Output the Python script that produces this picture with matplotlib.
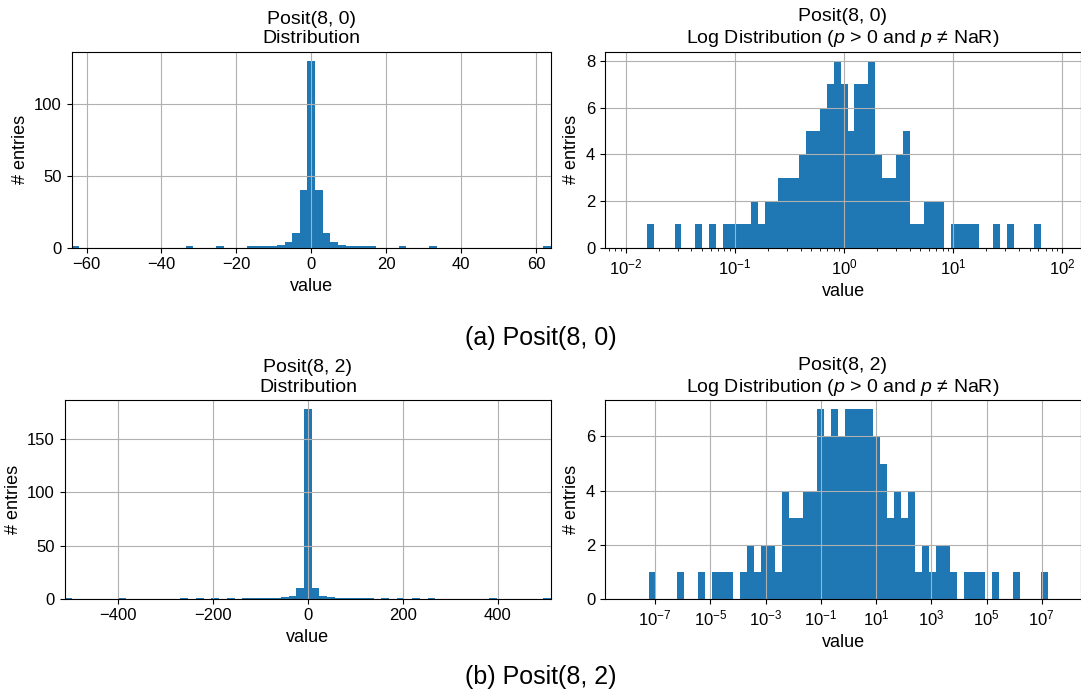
import matplotlib

matplotlib.use("Agg")
import matplotlib.pyplot as plt
import numpy as np
from matplotlib.ticker import LogLocator, NullFormatter

plt.rcParams["font.family"] = ["Liberation Sans", "DejaVu Sans"]
plt.rcParams["font.size"] = 12
plt.rcParams["axes.titlesize"] = 14
plt.rcParams["axes.labelsize"] = 13
plt.rcParams["mathtext.fontset"] = "custom"
plt.rcParams["mathtext.rm"] = "Liberation Sans"
plt.rcParams["mathtext.it"] = "Liberation Sans:italic"
plt.rcParams["mathtext.bf"] = "Liberation Sans:bold"

# Posit(8, 0): linear histogram, 63 bins over [-64, 64]
p80_lin_range = (-64, 64)
p80_lin_counts = [
    1, 0, 0, 0, 0, 0, 0, 0, 0, 0, 0, 0, 0, 0, 0,
    1, 0, 0, 0, 1, 0, 0, 0,
    1, 1, 1, 1,
    2, 4, 10, 40, 130, 40, 10, 4, 2,
    1, 1, 1, 1,
    0, 0, 0, 1, 0, 0, 0, 1,
    0, 0, 0, 0, 0, 0, 0, 0, 0, 0, 0, 0, 0, 0,
    1,
]

# Posit(8, 0): log histogram of positive values, 57 bins over [1/64, 64]
p80_log_range = (1 / 64, 64)
p80_log_counts = [
    1, 0, 0, 0, 1, 0, 0, 1, 0, 1,
    0, 1, 1, 1, 1, 2, 1, 2, 2, 3,
    3, 3, 4, 5, 5, 6, 7, 8, 7, 5,
    7, 7, 8, 4, 3, 3, 4, 5, 1, 1,
    2, 2, 2, 0, 1, 1, 1, 1, 0, 0,
    1, 0, 1, 0, 0, 0, 1,
]

# Posit(8, 2): linear histogram, 63 bins over [-512, 512]
p82_lin_range = (-512, 512)
p82_lin_counts = [
    1, 0, 0, 0, 0, 0, 0,
    1, 0, 0, 0, 0, 0, 0, 0,
    1, 0, 1, 0, 1, 0, 1, 0,
    1, 1, 1, 1, 1,
    2, 3, 10, 178, 10, 3, 2,
    1, 1, 1, 1, 1,
    0, 1, 0, 1, 0, 1, 0, 1,
    0, 0, 0, 0, 0, 0, 0,
    1, 0, 0, 0, 0, 0, 0,
    1,
]

# Posit(8, 2): log histogram of positive values, 57 bins over [2^-24, 2^24]
p82_log_range = (2.0 ** -24, 2.0 ** 24)
p82_log_counts = [
    1, 0, 0, 0, 1, 0, 0, 1, 0, 1,
    1, 1, 0, 1, 2, 1, 2, 2, 1, 4,
    3, 3, 4, 4, 7, 6, 7, 6, 7, 7,
    7, 7, 6, 5, 3, 4, 3, 4, 1, 2,
    1, 2, 2, 1, 0, 1, 1, 1, 0, 1,
    0, 0, 1, 0, 0, 0, 1,
]

W, H = 1081, 692


def px_axes(fig, left, top, right, bottom):
    return fig.add_axes([left / W, 1 - bottom / H, (right - left) / W, (bottom - top) / H])


def lin_hist(ax, counts, value_range, title):
    edges = np.linspace(value_range[0], value_range[1], len(counts) + 1)
    ax.hist(edges[:-1], bins=edges, weights=counts, color="#1f77b4")
    ax.set_xlim(value_range)
    ax.set_title(title)
    ax.set_xlabel("value")
    ax.set_ylabel("# entries")
    ax.grid(True)


def log_hist(ax, counts, value_range, xlim_exp, major_exp, title):
    edges = np.logspace(np.log10(value_range[0]), np.log10(value_range[1]), len(counts) + 1)
    ax.hist(edges[:-1], bins=edges, weights=counts, color="#1f77b4")
    ax.set_xscale("log")
    ax.set_xlim(10.0 ** xlim_exp[0], 10.0 ** xlim_exp[1])
    ax.set_xticks(10.0 ** np.asarray(major_exp, dtype=float))
    ax.set_title(title)
    ax.set_xlabel("value")
    ax.set_ylabel("# entries")
    ax.grid(True, which="major")


fig = plt.figure(figsize=(W / 100, H / 100), dpi=100)

ax_tl = px_axes(fig, 71.6, 51.7, 551.0, 247.7)
lin_hist(ax_tl, p80_lin_counts, p80_lin_range, "Posit(8, 0)\nDistribution")
ax_tl.set_xticks([-60, -40, -20, 0, 20, 40, 60])

ax_tr = px_axes(fig, 605, 51.7, 1081, 247.7)
log_hist(
    ax_tr, p80_log_counts, p80_log_range, (-2.19, 2.17), [-2, -1, 0, 1, 2],
    "Posit(8, 0)\nLog Distribution ($p$ > 0 and $p$ \u2260 NaR)",
)
ax_tr.xaxis.set_minor_locator(LogLocator(base=10, subs=np.arange(2, 10)))
ax_tr.xaxis.set_minor_formatter(NullFormatter())

ax_bl = px_axes(fig, 64.6, 400, 551.2, 598.7)
lin_hist(ax_bl, p82_lin_counts, p82_lin_range, "Posit(8, 2)\nDistribution")
ax_bl.set_xticks([-400, -200, 0, 200, 400])

ax_br = px_axes(fig, 605, 400, 1081, 598.7)
log_hist(
    ax_br, p82_log_counts, p82_log_range, (-8.81, 8.42), [-7, -5, -3, -1, 1, 3, 5, 7],
    "Posit(8, 2)\nLog Distribution ($p$ > 0 and $p$ \u2260 NaR)",
)
ax_br.xaxis.set_minor_locator(plt.NullLocator())

fig.text(0.5, 1 - 338 / H, "(a) Posit(8, 0)", ha="center", va="center", fontsize=18)
fig.text(0.5, 1 - 677 / H, "(b) Posit(8, 2)", ha="center", va="center", fontsize=18)

fig.savefig("out.png", dpi=100)
